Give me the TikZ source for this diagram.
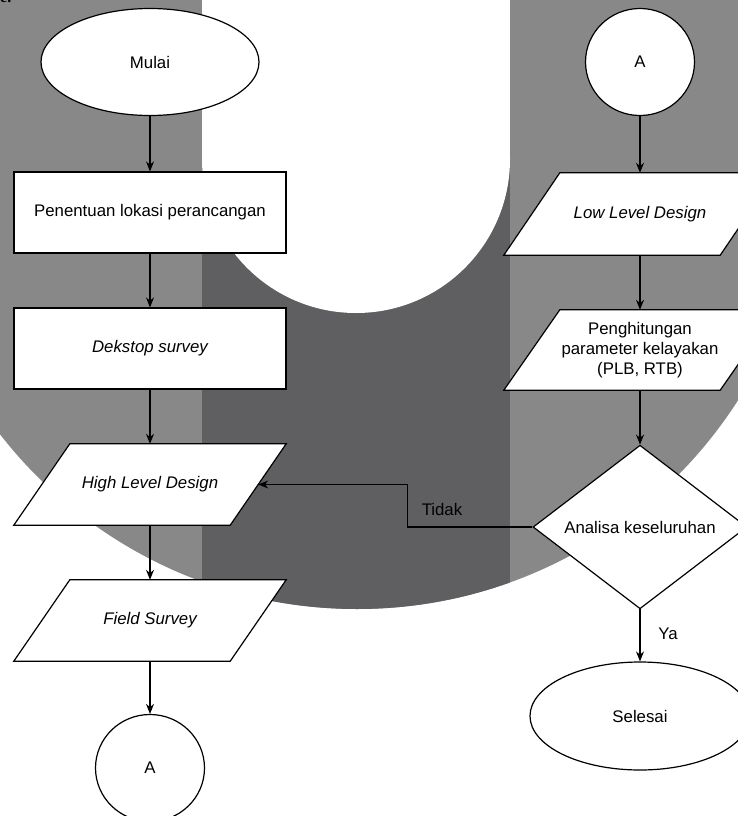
\documentclass[tikz,border=0pt]{standalone}
\usepackage{fontspec}
\setmainfont{Liberation Sans}
\newfontfamily\fragfont{Liberation Serif}
\usetikzlibrary{shapes.geometric,arrows.meta,calc}
\definecolor{midgrey}{HTML}{888888}
\definecolor{darkgrey}{HTML}{5F5F61}
\pgfdeclarelayer{bg}
\pgfdeclarelayer{shp}
\pgfsetlayers{bg,shp,main}
\tikzset{
  every node/.style={font=\fontsize{16.8}{20}\selectfont},
  box/.style={draw, line width=1.2pt, fill=white, minimum width=272pt, minimum height=81pt, align=center},
  oval/.style={draw, line width=1.2pt, fill=white, ellipse, inner sep=0pt},
  para/.style={minimum width=216pt, minimum height=81pt, align=center, inner sep=0pt},
  dec/.style={draw, line width=1.2pt, fill=white, diamond, minimum width=214pt, minimum height=160pt, inner sep=0pt},
  arr/.style={line width=1.2pt, -{Stealth[length=10pt,width=8pt]}},
  shapeline/.style={line width=1.2pt, fill=white, line join=miter},
  lbl/.style={inner sep=0pt}
}
\newcommand\drawpara[1]{%
  \begin{pgfonlayer}{shp}
    \draw[shapeline] ($(#1.south west)+(-28,0)$) -- ($(#1.north west)+(28,0)$) -- ($(#1.north east)+(28,0)$) -- ($(#1.south east)+(-28,0)$) -- cycle;
  \end{pgfonlayer}}
\begin{document}
\begin{tikzpicture}[x=1pt,y=-1pt]
\useasboundingbox (0,0) rectangle (737,816);
\begin{pgfonlayer}{bg}
  \fill[white] (0,0) rectangle (737,816);
  \fill[midgrey] (-100,0) rectangle (820,157);
  \fill[midgrey] (357,157) circle[radius=452];
  \begin{scope}
    \clip (357,157) circle[radius=452];
    \fill[darkgrey] (202,0) rectangle (510,816);
  \end{scope}
  \fill[white] (202,0) rectangle (510,159);
  \fill[white] (356,159) circle[radius=154];
\end{pgfonlayer}

\node[anchor=base west, inner sep=0pt, font=\fragfont\bfseries\fontsize{16}{16}\selectfont] (frag) at (0,3) {e.};

% left column
\node[oval, minimum width=218pt, minimum height=107pt] (mulai) at (150,62) {Mulai};
\node[box] (r1) at (150,212.5) {Penentuan lokasi perancangan};
\node[box] (r2) at (150,348.5) {\itshape Dekstop survey};
\node[para] (hld) at (150,484.5) {\itshape High Level Design};
\node[para] (fs) at (150,620.5) {\itshape Field Survey};
\node[oval, minimum width=109pt, minimum height=107pt] (a1) at (150,768) {A};

% right column
\node[oval, minimum width=109pt, minimum height=107pt] (a2) at (640,62) {A};
\node[para, minimum height=82pt] (lld) at (640,214) {\itshape Low Level Design};
\node[para, minimum height=80pt] (ph) at (640,350) {Penghitungan\\parameter kelayakan\\(PLB, RTB)};
\node[dec] (d) at (640,527) {Analisa keseluruhan};
\node[oval, minimum width=220pt, minimum height=108pt] (sel) at (640,716) {Selesai};

\drawpara{hld}
\drawpara{fs}
\drawpara{lld}
\drawpara{ph}

% connectors
\draw[arr] (mulai.south) -- (r1.north);
\draw[arr] (r1.south) -- (r2.north);
\draw[arr] (r2.south) -- (hld.north);
\draw[arr] (hld.south) -- (fs.north);
\draw[arr] (fs.south) -- (a1.north);

\draw[arr] (a2.south) -- (lld.north);
\draw[arr] (lld.south) -- (ph.north);
\draw[arr] (ph.south) -- (d.north);
\draw[arr] (d.south) -- (sel.north);
\draw[arr] (d.west) -- ([xshift=-125pt]d.west) |- (hld.east);

\node[lbl] (tidak) at (442,509) {Tidak};
\node[lbl] (ya) at (668,634) {Ya};
\end{tikzpicture}
\end{document}
